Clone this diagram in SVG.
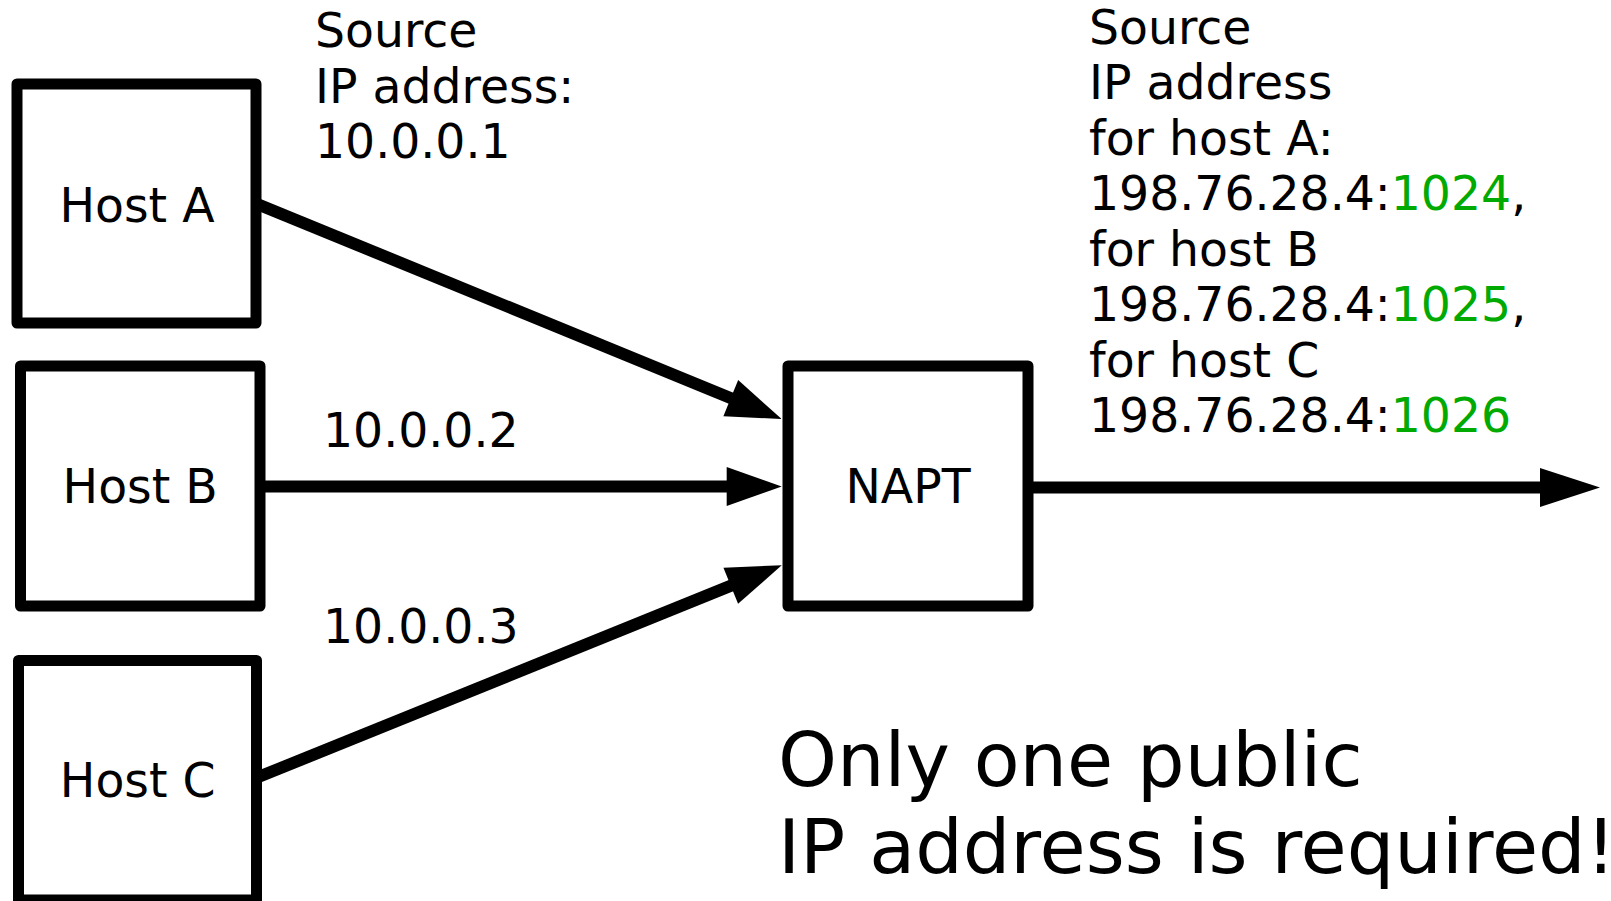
<svg xmlns="http://www.w3.org/2000/svg" width="1611" height="901" viewBox="0 0 1611 901">
  <style>
    .box { fill: #ffffff; stroke: #000000; stroke-width: 11; stroke-linejoin: round; }
    .wire { fill: none; stroke: #000000; stroke-width: 12; }
    .lbl { font-family: "DejaVu Sans", "Liberation Sans", sans-serif; font-size: 47.3px; fill: #000000; }
    .mid { text-anchor: middle; }
    .big { font-size: 75px; }
    .port { fill: #00aa00; }
  </style>
  <defs>
    <marker id="head" markerUnits="userSpaceOnUse" viewBox="0 -20 55 40" markerWidth="55" markerHeight="40" refX="1" refY="0" orient="auto" overflow="visible">
      <path d="M0,-19.5 L55,0 L0,19.5 Z" fill="#000000"/>
    </marker>
    <marker id="head-out" markerUnits="userSpaceOnUse" viewBox="0 -20 60 40" markerWidth="60" markerHeight="40" refX="1" refY="0" orient="auto" overflow="visible">
      <path d="M0,-19.5 L60,0 L0,19.5 Z" fill="#000000"/>
    </marker>
  </defs>

  <rect width="1611" height="901" fill="#ffffff"/>

  <!-- connectors -->
  <g id="connectors">
    <path class="wire" d="M256,203.5 L731.7,398.5" marker-end="url(#head)"/>
    <path class="wire" d="M260,486.5 L727.7,486.5" marker-end="url(#head)"/>
    <path class="wire" d="M256,778 L731.7,585.4" marker-end="url(#head)"/>
    <path class="wire" d="M1027.7,487.5 L1541,487.5" marker-end="url(#head-out)"/>
  </g>

  <!-- hosts and translator -->
  <g id="host-a">
    <rect class="box" x="17" y="84" width="239" height="239"/>
    <text class="lbl mid" x="137" y="221.7">Host A</text>
  </g>
  <g id="host-b">
    <rect class="box" x="20.5" y="366" width="239.5" height="240"/>
    <text class="lbl mid" x="140.2" y="503.3">Host B</text>
  </g>
  <g id="host-c">
    <rect class="box" x="18.5" y="660.5" width="238" height="239.5"/>
    <text class="lbl mid" x="137.7" y="796.7">Host C</text>
  </g>
  <g id="napt">
    <rect class="box" x="788" y="366" width="240" height="240"/>
    <text class="lbl mid" x="908" y="503.3">NAPT</text>
  </g>

  <!-- address labels -->
  <g id="label-a">
    <text class="lbl" x="315" y="46.7">Source</text>
    <text class="lbl" x="315" y="102.5">IP address:</text>
    <text class="lbl" x="315" y="158.3">10.0.0.1</text>
  </g>
  <g id="label-b">
    <text class="lbl" x="323" y="446.7">10.0.0.2</text>
  </g>
  <g id="label-c">
    <text class="lbl" x="323" y="643.3">10.0.0.3</text>
  </g>
  <g id="label-out">
    <text class="lbl" x="1089" y="43.5">Source</text>
    <text class="lbl" x="1089" y="99">IP address</text>
    <text class="lbl" x="1089" y="154.5">for host A:</text>
    <text class="lbl" x="1089" y="210">198.76.28.4:<tspan class="port">1024</tspan>,</text>
    <text class="lbl" x="1089" y="265.5">for host B</text>
    <text class="lbl" x="1089" y="321">198.76.28.4:<tspan class="port">1025</tspan>,</text>
    <text class="lbl" x="1089" y="376.5">for host C</text>
    <text class="lbl" x="1089" y="432">198.76.28.4:<tspan class="port">1026</tspan></text>
  </g>

  <g id="note">
    <text class="lbl big" x="778" y="786">Only one public</text>
    <text class="lbl big" x="778" y="873.3">IP address is required!</text>
  </g>
</svg>
